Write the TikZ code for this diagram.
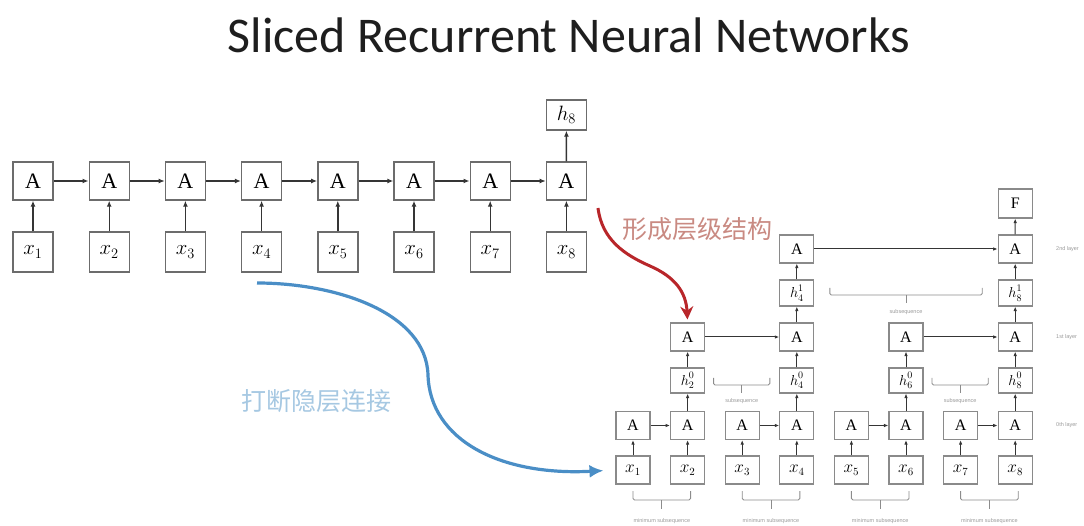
\documentclass[tikz,border=0pt]{standalone}
\usepackage{fontspec}
\setmainfont{Liberation Serif}
\newfontfamily\titlefont{Carlito}
\newfontfamily\cjk{Noto Sans CJK SC}
\newfontfamily\tinyfont{Liberation Sans}
\usetikzlibrary{arrows.meta}

\definecolor{titlegray}{HTML}{1E1E1E}
\definecolor{boxgray}{HTML}{6C6C6C}
\definecolor{linkgray}{HTML}{353535}
\definecolor{lightbox}{HTML}{8A8A8A}
\definecolor{tinygray}{HTML}{9A9A9A}
\definecolor{bracegray}{HTML}{8C8C8C}
\definecolor{redline}{HTML}{B8262A}
\definecolor{redtext}{HTML}{C98A82}
\definecolor{blueline}{HTML}{4A8EC6}
\definecolor{bluetext}{HTML}{A6C8E2}

% bracket under a group of cells: ends, bar and a centre tick
\newcommand\groupbrace[5]{%
  \draw[bracepen] (#1,#3) -- (#1,#4) -- (#2,#4) -- (#2,#3);
  \draw[bracepen] ({(#1+#2)/2},#4) -- ({(#1+#2)/2},#5);
}
% hidden state with layer index above and step index below
\newcommand\hstate[2]{$h^{\raisebox{1.5pt}{$\scriptstyle #1$}}_{#2}$}

\begin{document}
\begin{tikzpicture}[x=1pt,y=-1pt,
  bigbox/.style={draw=boxgray, line width=1.4pt, minimum width=40pt,
    minimum height=38pt, inner sep=0pt, font=\fontsize{22}{22}\selectfont},
  smallbox/.style={draw=lightbox, line width=1.1pt, minimum width=34pt,
    minimum height=28pt, inner sep=0pt, font=\fontsize{16}{16}\selectfont},
  hbox/.style={smallbox, font=\fontsize{14}{14}\selectfont},
  bigarrow/.style={draw=linkgray, line width=1.4pt, -{Latex[length=6pt,width=5pt]}},
  smallarrow/.style={draw=linkgray, line width=1pt, -{Latex[length=4.5pt,width=3.5pt]}},
  tinylabel/.style={font=\tinyfont\fontsize{5.5}{5.5}\selectfont, text=tinygray, inner sep=0pt},
  bracepen/.style={draw=bracegray, line width=0.9pt, rounded corners=1.5pt},
  redarrow/.style={draw=redline, line width=3pt, -{Stealth[length=13pt,width=13pt]}},
  bluearrow/.style={draw=blueline, line width=3.2pt, -{Latex[length=14pt,width=13pt]}},
]
\useasboundingbox (0,0) rectangle (1084,526);

\node[font=\titlefont\fontsize{50}{50}\selectfont, text=titlegray, anchor=base]
  (title) at (569,53) {Sliced Recurrent Neural Networks};

% ---- plain RNN unrolled over eight steps ----
\foreach \i in {1,...,8} {
  \pgfmathsetmacro\cx{33+76.2*(\i-1)}
  \node[bigbox] (A\i) at (\cx,181) {A};
  \node[bigbox, minimum height=40pt] (x\i) at (\cx,252) {$x_{\i}$};
  \draw[bigarrow] (x\i) -- (A\i);
}
\foreach \i [evaluate=\i as \j using int(\i+1)] in {1,...,7}
  \draw[bigarrow] (A\i) -- (A\j);
\node[bigbox, minimum height=30pt] (h8) at (566.4,115) {$h_8$};
\draw[bigarrow] (A8) -- (h8);

% ---- sliced RNN ----
\foreach \i in {1,...,8} {
  \pgfmathsetmacro\cx{633+54.6*(\i-1)}
  \node[smallbox] (sx\i) at (\cx,470) {$x_{\i}$};
  \node[smallbox] (la\i) at (\cx,425.5) {A};
  \draw[smallarrow] (sx\i) -- (la\i);
}
\foreach \i [evaluate=\i as \j using int(\i+1)] in {1,3,5,7}
  \draw[smallarrow] (la\i) -- (la\j);
\foreach \i in {2,4,6,8} {
  \pgfmathsetmacro\cx{633+54.6*(\i-1)}
  \node[hbox, minimum height=25pt] (hz\i) at (\cx,380.5) {\hstate{0}{\i}};
  \node[smallbox] (lb\i) at (\cx,337) {A};
  \draw[smallarrow] (la\i) -- (hz\i);
  \draw[smallarrow] (hz\i) -- (lb\i);
}
\draw[smallarrow] (lb2) -- (lb4);
\draw[smallarrow] (lb6) -- (lb8);
\foreach \i in {4,8} {
  \pgfmathsetmacro\cx{633+54.6*(\i-1)}
  \node[hbox, minimum height=26pt] (ho\i) at (\cx,293) {\hstate{1}{\i}};
  \node[smallbox] (lc\i) at (\cx,249) {A};
  \draw[smallarrow] (lb\i) -- (ho\i);
  \draw[smallarrow] (ho\i) -- (lc\i);
}
\draw[smallarrow] (lc4) -- (lc8);
\node[smallbox, minimum height=29pt] (F) at (1015.2,203.5) {F};
\draw[smallarrow] (lc8) -- (F);

% layer names at the right margin
\node[tinylabel, anchor=west] (n2) at (1056,249) {2nd layer};
\node[tinylabel, anchor=west] (n1) at (1056,337) {1st layer};
\node[tinylabel, anchor=west] (n0) at (1056,425.5) {0th layer};

% brackets and their captions
\foreach \k in {1,2,3,4} {
  \pgfmathsetmacro\xl{633+54.6*(2*\k-2)}
  \pgfmathsetmacro\xr{633+54.6*(2*\k-1)+3}
  \groupbrace{\xl}{\xr}{491}{500}{509}
  \node[tinylabel] (ms\k) at ({(\xl+\xr)/2},521) {minimum subsequence};
}
\groupbrace{713.6}{769.8}{378}{385}{393}
\node[tinylabel] (sa) at (741.7,401) {subsequence};
\groupbrace{932}{988.2}{378}{385}{393}
\node[tinylabel] (sb) at (960.1,401) {subsequence};
\groupbrace{829.8}{982.2}{288}{295}{303}
\node[tinylabel] (sc) at (906,312) {subsequence};

% ---- annotations ----
\node[font=\cjk\fontsize{25}{25}\selectfont, text=redtext, anchor=west, inner sep=0pt]
  (form) at (622,229) {形成层级结构};
\node[font=\cjk\fontsize{25}{25}\selectfont, text=bluetext, anchor=west, inner sep=0pt]
  (cut) at (241,401) {打断隐层连接};

\coordinate (redstart) at (598,208);
\draw[redarrow, shorten >=3pt] (redstart) .. controls (602,240) and (625,255) .. (650,266)
  .. controls (675,277) and (686,292) .. (lb2.north);

\coordinate (bluestart) at (257,283);
\draw[bluearrow, shorten >=12pt] (bluestart) .. controls (335,283) and (426,312) .. (428,375)
  .. controls (430,440) and (500,476) .. (sx1.west);
\end{tikzpicture}
\end{document}
